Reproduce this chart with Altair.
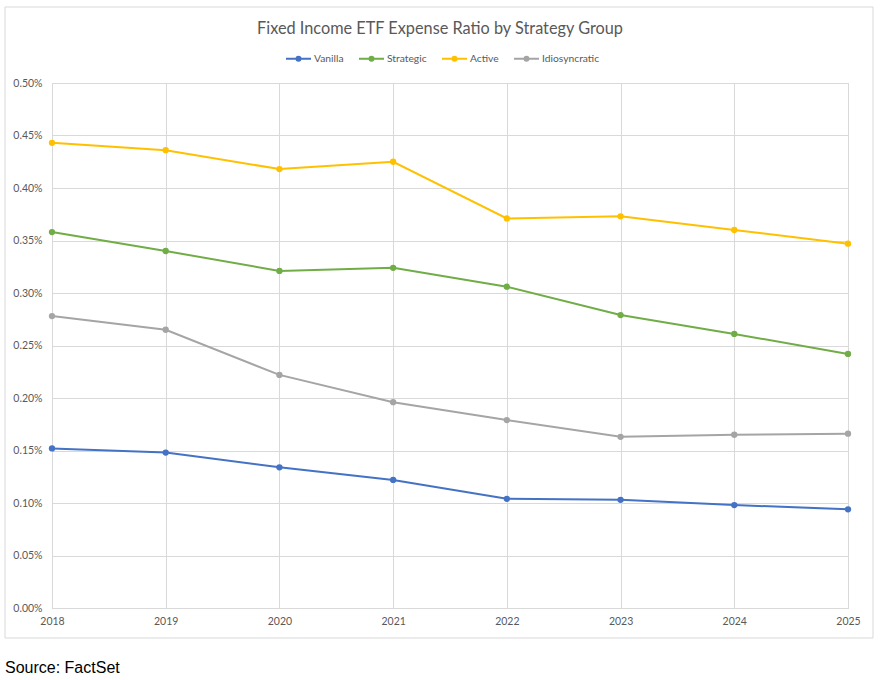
import altair as alt
import pandas as pd

years = [2018, 2019, 2020, 2021, 2022, 2023, 2024, 2025]
groups = ["Vanilla", "Strategic", "Active", "Idiosyncratic"]
colors = ["#4472C4", "#70AD47", "#FFC000", "#A5A5A5"]

# expense ratios as fractions (0.00443 = 0.443%)
vanilla = [0.00152, 0.00148, 0.00134, 0.00122, 0.00104, 0.00103, 0.00098, 0.00094]
strategic = [0.00358, 0.00340, 0.00321, 0.00324, 0.00306, 0.00279, 0.00261, 0.00242]
active = [0.00443, 0.00436, 0.00418, 0.00425, 0.00371, 0.00373, 0.00360, 0.00347]
idiosyncratic = [0.00278, 0.00265, 0.00222, 0.00196, 0.00179, 0.00163, 0.00165, 0.00166]

series = {"Vanilla": vanilla, "Strategic": strategic, "Active": active,
          "Idiosyncratic": idiosyncratic}
rows = []
for g in groups:
    for yr, v in zip(years, series[g]):
        rows.append({"Year": str(yr), "Group": g, "Ratio": v, "order": groups.index(g)})
df = pd.DataFrame(rows)

W, H = 796, 525
FONT = "Lato"
GRAY_TXT = "#595959"

# line with a dot in the middle for legend entries
legend_symbol = "M-1,0L1,0M0.16,0A0.16,0.16 0 1,1 -0.16,0A0.16,0.16 0 1,1 0.16,0"

x_enc = alt.X("Year:O", scale=alt.Scale(type="point", padding=0),
              axis=alt.Axis(title=None, labelAngle=0, grid=True, gridColor="#d9d9d9",
                            domainColor="#d9d9d9", ticks=False, labelPadding=8,
                            labelFont=FONT, labelFontSize=10.5, labelColor=GRAY_TXT))
y_enc = alt.Y("Ratio:Q", scale=alt.Scale(domain=[0, 0.005], nice=False),
              axis=alt.Axis(title=None, format=".2%", values=[i * 0.0005 for i in range(11)],
                            grid=True, gridColor="#d9d9d9", domainColor="#d9d9d9",
                            ticks=False, labelPadding=10, labelFont=FONT,
                            labelFontSize=10.5, labelColor=GRAY_TXT))
color_enc = alt.Color("Group:N", scale=alt.Scale(domain=groups, range=colors),
                      legend=alt.Legend(title=None, orient="none", direction="horizontal",
                                        legendX=233, legendY=-38, symbolType=legend_symbol,
                                        symbolSize=625, symbolStrokeWidth=2,
                                        labelFont=FONT, labelFontSize=10.3,
                                        labelColor=GRAY_TXT, labelOffset=2,
                                        columnPadding=11))

base = alt.Chart(df)
lines = base.mark_line(strokeWidth=2).encode(x=x_enc, y=y_enc, color=color_enc,
                                             detail="Group:N", order="order:Q")
points = base.mark_circle(size=40, opacity=1).encode(
    x=x_enc, y=y_enc,
    color=alt.Color("Group:N", scale=alt.Scale(domain=groups, range=colors), legend=None))

frame_df = pd.DataFrame({"k": [0]})
frame = alt.Chart(frame_df).mark_rect(fill=None, stroke="#d9d9d9", strokeWidth=1).encode(
    x=alt.value(-47), x2=alt.value(821), y=alt.value(-76), y2=alt.value(555))

title = alt.Chart(pd.DataFrame({"t": ["Fixed Income ETF Expense Ratio by Strategy Group"]})).mark_text(
    align="center", baseline="middle", font=FONT, fontSize=16.3, color=GRAY_TXT
).encode(x=alt.value(388), y=alt.value(-54), text="t:N")

source = alt.Chart(pd.DataFrame({"t": ["Source: FactSet"]})).mark_text(
    align="left", baseline="middle", font="Liberation Sans", fontSize=16, color="#000000"
).encode(x=alt.value(-47), y=alt.value(585), text="t:N")

chart = alt.layer(frame, lines, points, title, source).properties(
    width=W, height=H,
    padding={"left": 52, "top": 83, "right": 34, "bottom": 72},
    autosize=alt.AutoSizeParams(type="none"),
).configure_view(stroke=None).configure(background="white")

chart.save("out.html", embed_options={"renderer": "svg", "actions": False})
